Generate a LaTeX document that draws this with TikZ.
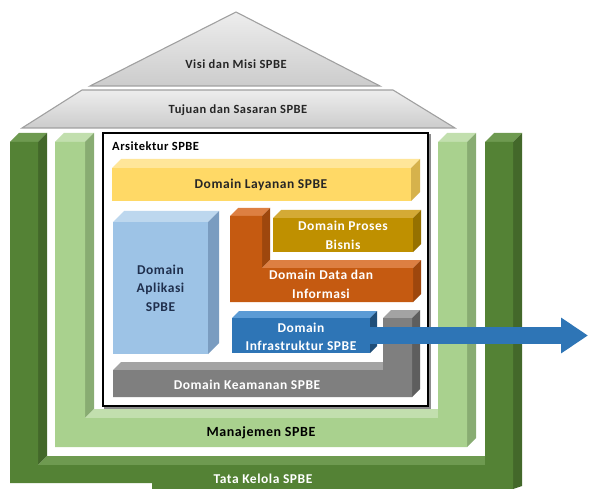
\documentclass[tikz,border=0pt]{standalone}
\usepackage{fontspec}
\setmainfont{Carlito}[LetterSpace=4]
\usetikzlibrary{arrows.meta}

% palette
\definecolor{dgFront}{HTML}{548235}
\definecolor{dgTop}{HTML}{6E9A50}
\definecolor{dgSide}{HTML}{43682A}
\definecolor{lgFront}{HTML}{A9D18E}
\definecolor{lgTop}{HTML}{C2DFAE}
\definecolor{lgSide}{HTML}{88AC72}
\definecolor{ylFront}{HTML}{FFD966}
\definecolor{ylTop}{HTML}{FFE699}
\definecolor{ylSide}{HTML}{D6B24C}
\definecolor{lbFront}{HTML}{9DC3E6}
\definecolor{lbTop}{HTML}{BDD7EE}
\definecolor{lbSide}{HTML}{7A9CC0}
\definecolor{orFront}{HTML}{C55A11}
\definecolor{orTop}{HTML}{DD7F42}
\definecolor{orSide}{HTML}{9E470D}
\definecolor{goFront}{HTML}{BF9000}
\definecolor{goTop}{HTML}{D4AA35}
\definecolor{goSide}{HTML}{967100}
\definecolor{blFront}{HTML}{2E75B6}
\definecolor{blTop}{HTML}{5B9BD5}
\definecolor{blSide}{HTML}{1F4E79}
\definecolor{grFront}{HTML}{7F7F7F}
\definecolor{grTop}{HTML}{A3A3A3}
\definecolor{grSide}{HTML}{5E5E5E}
\definecolor{roofLine}{HTML}{A0A0A0}
\definecolor{navyText}{HTML}{1F2F4D}
\definecolor{darkText}{HTML}{262626}

% extruded box: x1, y1, x2, y2 (front face), depth, front, top, side
\newcommand\blockbox[8]{%
  \fill[#7] (#1,#2) -- ({#1+#5},{#2-#5}) -- ({#3+#5},{#2-#5}) -- (#3,#2) -- cycle;
  \fill[#8] (#3,#2) -- ({#3+#5},{#2-#5}) -- ({#3+#5},{#4-#5}) -- (#3,#4) -- cycle;
  \fill[#6] (#1,#2) rectangle (#3,#4);
}

\tikzset{
  lbl/.style={font=\bfseries\fontsize{13.5}{18.5}\selectfont, align=center, inner sep=0pt},
  roof/.style={draw=roofLine, line width=1.1pt, top color=white!93!black, bottom color=white!80!black},
  bigarrow/.style={draw=blFront, line width=17pt, -{Triangle[length=27pt,width=34pt]}}
}

\begin{document}
\begin{tikzpicture}[x=1pt,y=-1pt]
\useasboundingbox (0,0) rectangle (589,489);

% ---- outer U: Tata Kelola
\fill[dgTop] (10,142) -- (19,133) -- (47,133) -- (38,142) -- cycle;
\fill[dgSide] (38,142) -- (47,133) -- (47,456) -- (38,465) -- cycle;
\fill[dgTop] (38,465) -- (47,456) -- (485,456) -- (485,465) -- cycle;
\fill[dgTop] (485,142) -- (494,133) -- (522,133) -- (513,142) -- cycle;
\fill[dgSide] (513,142) -- (522,133) -- (522,486) -- (513,489) -- cycle;
\fill[dgFront] (10,142) -- (38,142) -- (38,465) -- (485,465) -- (485,142)
  -- (513,142) -- (513,489) -- (152,489) -- (152,483) -- (10,483) -- cycle;

% ---- inner U: Manajemen
\fill[lgTop] (55,142) -- (64,133) -- (94,133) -- (85,142) -- cycle;
\fill[lgSide] (85,142) -- (94,133) -- (94,409) -- (85,418) -- cycle;
\fill[lgTop] (85,418) -- (94,409) -- (438,409) -- (438,418) -- cycle;
\fill[lgTop] (438,142) -- (447,133) -- (476,133) -- (467,142) -- cycle;
\fill[lgSide] (467,142) -- (476,133) -- (476,438) -- (467,447) -- cycle;
\fill[lgFront] (55,142) -- (85,142) -- (85,418) -- (438,418) -- (438,142)
  -- (467,142) -- (467,447) -- (55,447) -- cycle;

% ---- roof
\draw[roof] (90,86) -- (236,12) -- (380,86) -- cycle;
\draw[roof] (82,90) -- (393,90) -- (455,128) -- (22,128) -- cycle;

% ---- architecture frame
\draw[black!45, line width=1.2pt] (105,135) rectangle (430,408);
\draw[black, line width=1.4pt, fill=white] (103,133) rectangle (428,406);

% ---- domain blocks
\blockbox{112}{168}{411}{201}{9}{ylFront}{ylTop}{ylSide}
\blockbox{113}{222}{208}{354}{11}{lbFront}{lbTop}{lbSide}

% data and information (L shape)
\fill[orTop] (230,216) -- (238,208) -- (270,208) -- (262,216) -- cycle;
\fill[orSide] (262,216) -- (270,208) -- (270,260) -- (262,268) -- cycle;
\fill[orTop] (262,268) -- (270,260) -- (421,260) -- (413,268) -- cycle;
\fill[orSide] (413,268) -- (421,260) -- (421,294) -- (413,302) -- cycle;
\fill[orFront] (230,216) -- (262,216) -- (262,268) -- (413,268) -- (413,302) -- (230,302) -- cycle;

\blockbox{273}{218}{413}{252}{8}{goFront}{goTop}{goSide}
\blockbox{232}{318}{370}{353}{7}{blFront}{blTop}{blSide}

% security (L shape)
\fill[grTop] (113,370) -- (121,362) -- (391,362) -- (383,370) -- cycle;
\fill[grTop] (383,318) -- (391,310) -- (420,310) -- (412,318) -- cycle;
\fill[grSide] (412,318) -- (420,310) -- (420,389) -- (412,397) -- cycle;
\fill[grFront] (113,370) -- (383,370) -- (383,318) -- (412,318) -- (412,397) -- (113,397) -- cycle;

% ---- labels
\node[lbl, text=darkText, font=\bfseries\fontsize{12.5}{14}\selectfont] (visi) at (236,64) {Visi dan Misi SPBE};
\node[lbl, text=darkText, font=\bfseries\fontsize{12.5}{14}\selectfont] (tujuan) at (238,110) {Tujuan dan Sasaran SPBE};
\node[lbl, text=black, anchor=west, font=\bfseries\fontsize{12.5}{14}\selectfont] (arsitektur) at (112,146) {Arsitektur SPBE};
\node[lbl, text=darkText, font=\bfseries\fontsize{13.5}{16}\selectfont] (layanan) at (261,185) {Domain Layanan SPBE};
\node[lbl, text=navyText] (aplikasi) at (160.5,288) {Domain\\Aplikasi\\SPBE};
\node[lbl, text=white] (proses) at (343,235.5) {Domain Proses\\Bisnis};
\node[lbl, text=white] (data) at (321,284.5) {Domain Data dan\\Informasi};
\node[lbl, text=white, minimum width=138pt, minimum height=35pt] (infra) at (301,337) {Domain\\Infrastruktur SPBE};
\node[lbl, text=white] (keamanan) at (247,385) {Domain Keamanan SPBE};
\node[lbl, text=black, font=\bfseries\fontsize{14}{15}\selectfont] (manajemen) at (261,433) {Manajemen SPBE};
\node[lbl, text=white, font=\bfseries\fontsize{13.5}{15}\selectfont] (tatakelola) at (263,479) {Tata Kelola SPBE};

% ---- outgoing arrow
\coordinate (arrowend) at (588,335.5);
\draw[bigarrow] (infra.east |- arrowend) -- (arrowend);
\end{tikzpicture}
\end{document}
